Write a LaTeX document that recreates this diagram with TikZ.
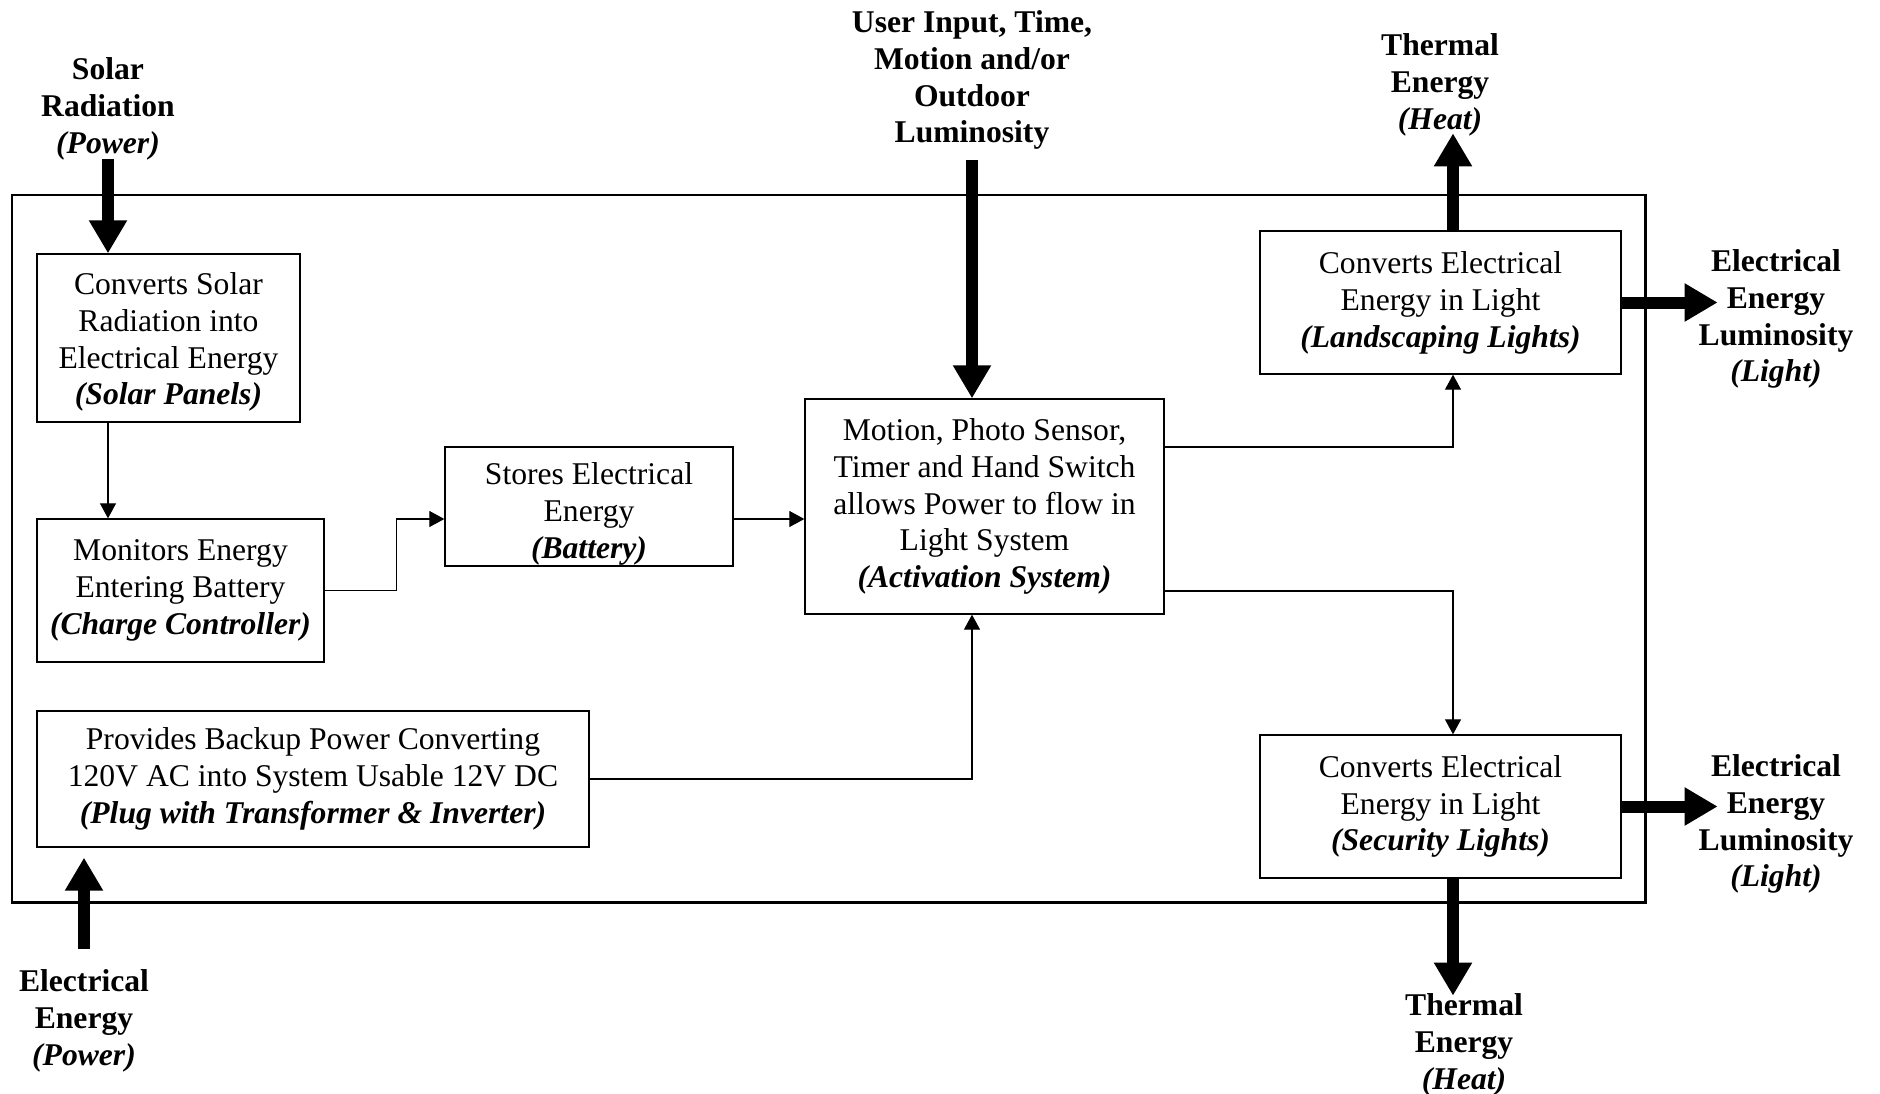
\documentclass[tikz,border=0pt]{standalone}
\usepackage{fontspec}
\setmainfont{Liberation Serif}
\usetikzlibrary{arrows.meta,positioning,calc}
\newcommand\boxfont{\fontsize{18}{21}\selectfont}

\begin{document}
\begin{tikzpicture}[
  x=0.2mm, y=-0.2mm,
  block/.style={draw,line width=0.75pt,align=center,font=\boxfont,inner sep=0pt},
  ext/.style={align=center,font=\boxfont\bfseries,inner sep=1pt},
  arr/.style={-{Triangle[length=3mm,width=3.2mm]},line width=0.6pt},
  bigarr/.style={-{Triangle[length=6.6mm,width=7.2mm]},line width=2.4mm},
  frame/.style={line width=1.7pt}
]
\useasboundingbox (0,0) rectangle (1880,1094);
\draw[frame] (12,195) rectangle (1645,902);

\node[block,minimum width=52.6mm,minimum height=33.6mm] (sol) at (168.5,338)
  {\rule{0pt}{17pt}Converts Solar\\Radiation into\\Electrical Energy\\\textbf{\textit{(Solar Panels)}}};
\node[block,minimum width=57.4mm,minimum height=28.6mm] (chg) at (180.5,590.5)
  {Monitors Energy\\Entering Battery\\\textbf{\textit{(Charge Controller)}}};
\node[block,minimum width=57.6mm,minimum height=23.8mm] (bat) at (589,506.5)
  {\rule{0pt}{21pt}Stores Electrical\\Energy\\\textbf{\textit{(Battery)}}};
\node[block,minimum width=71.8mm,minimum height=43mm] (act) at (984.5,506.5)
  {Motion, Photo Sensor,\\Timer and Hand Switch\\allows Power to flow in\\Light System\\\textbf{\textit{(Activation System)}}};
\node[block,minimum width=110.4mm,minimum height=27.2mm] (bak) at (313,779)
  {Provides Backup Power Converting\\120V AC into System Usable 12V DC\\\textbf{\textit{(Plug with Transformer \& Inverter)}}};
\node[block,minimum width=72.2mm,minimum height=28.6mm] (land) at (1440.5,302.5)
  {Converts Electrical\\Energy in Light\\\textbf{\textit{(Landscaping Lights)}}};
\node[block,minimum width=72.2mm,minimum height=28.6mm] (sec) at (1440.5,806.5)
  {Converts Electrical\\Energy in Light\\\textbf{\textit{(Security Lights)}}};

% inputs and outputs
\node[ext] (srad) at (108,108.5) {Solar\\Radiation\\\textit{(Power)}};
\node[ext] (user) at (972,80) {User Input, Time,\\Motion and/or\\Outdoor\\Luminosity};
\node[ext] (heat1) at (1440,85) {Thermal\\Energy\\\textit{(Heat)}};
\node[ext] (lum1) at (1776,319) {Electrical\\Energy\\Luminosity\\\textit{(Light)}};
\node[ext] (lum2) at (1776,824) {Electrical\\Energy\\Luminosity\\\textit{(Light)}};
\node[ext] (heat2) at (1464,1045) {Thermal\\Energy\\\textit{(Heat)}};
\node[ext] (epow) at (84,1021) {Electrical\\Energy\\\textit{(Power)}};

\coordinate (lout1) at ($(land.east)+(96,0)$);
\coordinate (lout2) at ($(sec.east)+(96,0)$);
\coordinate (b1) at ($(bat.east)+(0,12.5)$);

\draw[bigarr] ($(srad.south)+(0,-3)$) -- (srad.south |- sol.north);
\draw[bigarr] ($(user.south)+(0,8)$) -- (user.south |- act.north);
\draw[bigarr] ($(land.north)+(12.5,0)$) -- ++(0,-97);
\draw[bigarr] (land.east) -- (lout1);
\draw[bigarr] (sec.east) -- (lout2);
\draw[bigarr] ($(sec.south)+(12.5,0)$) -- ++(0,117);
\draw[bigarr] ($(epow.north)+(0,-19)$) -- ($(bak.south -| epow)+(0,10)$);

\draw[arr] (sol.south -| srad) -- (chg.north -| srad);
\draw[arr] (chg.east) -- ++(72,0) |- ($(bat.west)+(0,12.5)$);
\draw[arr] (b1) -- (b1 -| act.west);
\draw[arr] (bak.east) -| ($(act.south)+(-12.5,0)$);
\draw[arr] ($(act.east)+(0,-59.5)$) -| ($(land.south)+(12.5,0)$);
\draw[arr] ($(act.east)+(0,84.5)$) -| ($(sec.north)+(12.5,0)$);
\end{tikzpicture}
\end{document}
